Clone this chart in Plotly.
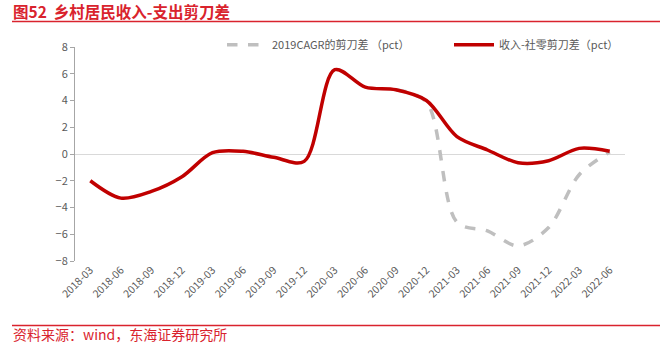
import plotly.graph_objects as go

categories = ["2018-03", "2018-06", "2018-09", "2018-12", "2019-03", "2019-06",
              "2019-09", "2019-12", "2020-03", "2020-06", "2020-09", "2020-12",
              "2021-03", "2021-06", "2021-09", "2021-12", "2022-03", "2022-06"]
income_retail_gap = [-2.0, -3.3, -2.8, -1.7, 0.1, 0.2, -0.25, -0.55, 6.3, 5.0, 4.8, 4.0,
                     1.3, 0.3, -0.65, -0.5, 0.42, 0.2]
cagr_categories = ["2020-09", "2020-12", "2021-03", "2021-06", "2021-09", "2021-12",
                   "2022-03", "2022-06"]
cagr_gap = [4.8, 3.9, -5.1, -5.75, -6.87, -5.5, -1.55, 0.15]

RED = "#d9232d"
FONT = "Noto Sans CJK SC"

fig = go.Figure()
fig.add_trace(go.Scatter(
    x=cagr_categories, y=cagr_gap, mode="lines", name="2019CAGR的剪刀差 （pct）",
    line=dict(color="#bfbfbf", width=3.5, dash="dash", shape="spline", smoothing=0.9),
    legend="legend",
))
fig.add_trace(go.Scatter(
    x=categories, y=income_retail_gap, mode="lines", name="收入-社零剪刀差（pct）",
    line=dict(color="#c00000", width=3.5, shape="spline", smoothing=0.9),
    legend="legend2",
))

leg_common = dict(orientation="h", xanchor="left", y=1.01, yanchor="middle",
                  font=dict(size=11, color="#595959"), bgcolor="rgba(0,0,0,0)",
                  itemwidth=40)

fig.update_layout(
    width=663, height=343,
    margin=dict(l=75, r=38, t=47, b=82),
    paper_bgcolor="white", plot_bgcolor="white",
    font=dict(family=FONT, color="#595959", size=11),
    showlegend=True,
    legend=dict(x=(222 - 75) / 550, **leg_common),
    legend2=dict(x=(449 - 75) / 550, **leg_common),
    xaxis=dict(type="category", categoryorder="array", categoryarray=categories,
               showgrid=False, showline=False, zeroline=False, tickangle=-45,
               ticks="", tickfont=dict(size=10.5, color="#595959"), range=[-0.5, 17.5]),
    yaxis=dict(range=[-8, 8], dtick=2, showgrid=False, showline=True, linecolor="#a6a6a6",
               linewidth=1, ticks="outside", ticklen=4, tickcolor="#a6a6a6",
               zeroline=True, zerolinecolor="#d9d9d9", zerolinewidth=1,
               tickfont=dict(size=11, color="#595959")),
)

fig.add_annotation(text="<b>图52  乡村居民收入-支出剪刀差</b>", xref="paper", yref="paper",
                   x=(11 - 75) / 550, y=(261 - 11.5) / 214, xanchor="left", yanchor="middle",
                   showarrow=False, font=dict(size=15.5, color=RED, family=FONT))
fig.add_annotation(text="资料来源：wind，东海证券研究所", xref="paper", yref="paper",
                   x=(11 - 75) / 550, y=(261 - 334) / 214, xanchor="left", yanchor="middle",
                   showarrow=False, font=dict(size=14, color=RED, family=FONT))
fig.add_shape(type="line", xref="paper", yref="paper",
              x0=(12 - 75) / 550, x1=(660 - 75) / 550,
              y0=(261 - 21.5) / 214, y1=(261 - 21.5) / 214,
              line=dict(color=RED, width=1.5))
fig.add_shape(type="line", xref="paper", yref="paper",
              x0=(12 - 75) / 550, x1=(660 - 75) / 550,
              y0=(261 - 325.5) / 214, y1=(261 - 325.5) / 214,
              line=dict(color=RED, width=1.5))

fig.write_html("out.html")
